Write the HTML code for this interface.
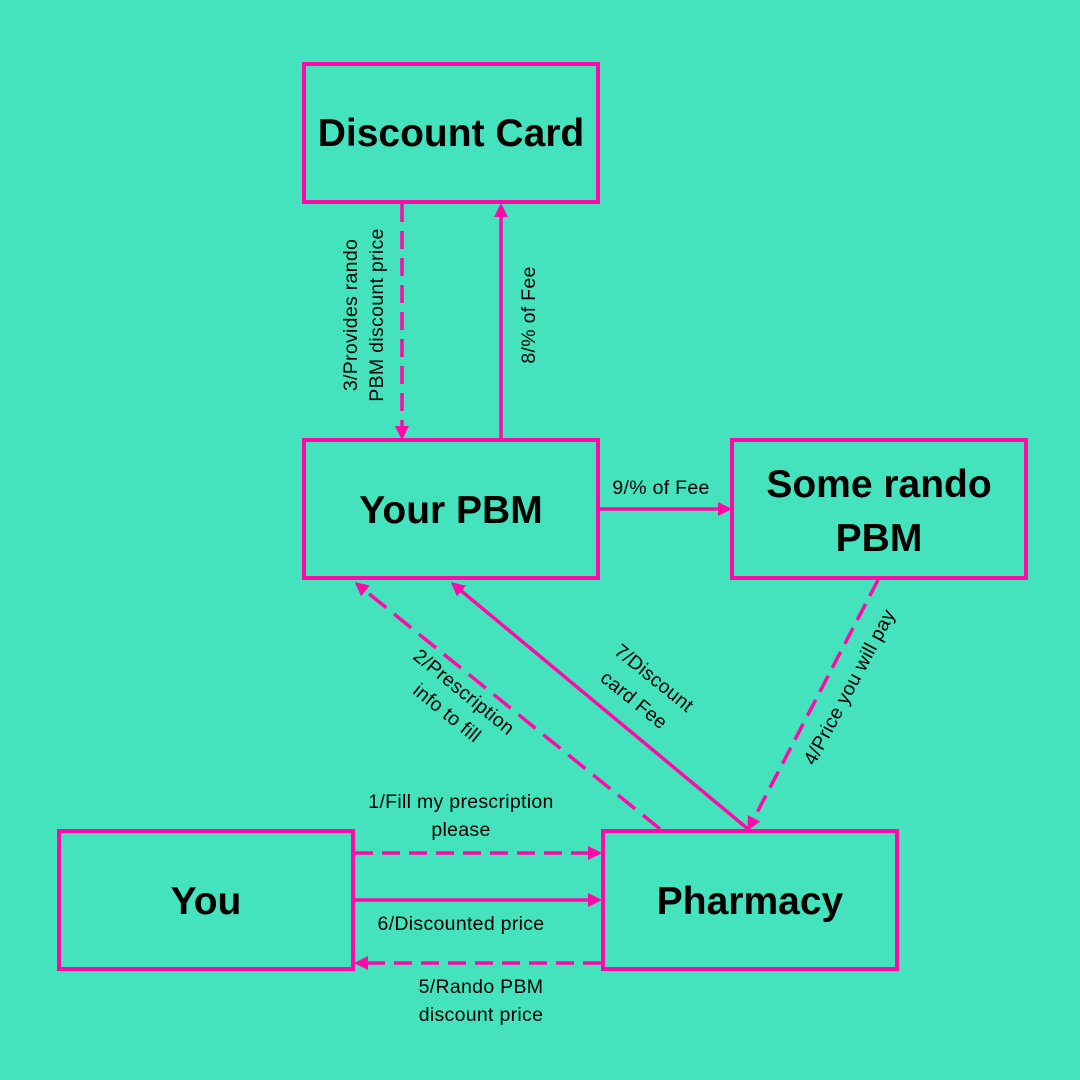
<!DOCTYPE html>
<html><head><meta charset="utf-8"><style>
html,body{margin:0;padding:0;background:#45e3bd;}
svg{display:block}
text{font-family:"Liberation Sans",sans-serif;fill:#000}
.t{font-weight:bold;font-size:39px;text-anchor:middle}
.l{font-size:19.5px;text-anchor:middle;letter-spacing:0.3px}
</style></head><body>
<svg width="1080" height="1080" viewBox="0 0 1080 1080">
<defs>
<marker id="a" markerWidth="14" markerHeight="14" refX="11" refY="7" orient="auto" markerUnits="userSpaceOnUse">
<path d="M0,0 L14,7 L0,14 z" fill="#ff0aa8"/></marker>
</defs>
<rect width="1080" height="1080" fill="#45e3bd"/>
<g fill="none" stroke="#ff0aa8" stroke-width="4">
<rect x="304" y="64" width="294" height="138"/>
<rect x="304" y="440" width="294" height="138"/>
<rect x="732" y="440" width="294" height="138"/>
<rect x="59" y="831" width="294" height="138"/>
<rect x="603" y="831" width="294" height="138"/>
</g>
<g fill="none" stroke="#ff0aa8" stroke-width="3.5">
<line x1="402" y1="204" x2="402" y2="437" stroke-dasharray="18,9" marker-end="url(#a)"/>
<line x1="501" y1="438" x2="501" y2="206" marker-end="url(#a)"/>
<line x1="600" y1="509" x2="729" y2="509" marker-end="url(#a)"/>
<line x1="878" y1="580" x2="749" y2="828" stroke-dasharray="18,9" marker-end="url(#a)"/>
<line x1="660" y1="829" x2="357" y2="584" stroke-dasharray="22,10" marker-end="url(#a)"/>
<line x1="748" y1="829" x2="453" y2="584" marker-end="url(#a)"/>
<line x1="355" y1="853" x2="599" y2="853" stroke-dasharray="18,9" marker-end="url(#a)"/>
<line x1="355" y1="900" x2="599" y2="900" marker-end="url(#a)"/>
<line x1="601" y1="963" x2="357" y2="963" stroke-dasharray="18,9" marker-end="url(#a)"/>
</g>
<text class="t" x="451" y="146">Discount Card</text>
<text class="t" x="451" y="523">Your PBM</text>
<text class="t" x="879" y="497">Some rando</text>
<text class="t" x="879" y="551">PBM</text>
<text class="t" x="206" y="914">You</text>
<text class="t" x="750" y="914">Pharmacy</text>
<text class="l" transform="translate(357,315) rotate(-90)">3/Provides rando</text>
<text class="l" transform="translate(383,315) rotate(-90)">PBM discount price</text>
<text class="l" transform="translate(535,315) rotate(-90)">8/% of Fee</text>
<text class="l" x="661" y="494">9/% of Fee</text>
<text class="l" transform="translate(460,697) rotate(39)">2/Prescription</text>
<text class="l" transform="translate(443,718) rotate(39)">info to fill</text>
<text class="l" transform="translate(650,683) rotate(39)">7/Discount</text>
<text class="l" transform="translate(630,705) rotate(39)">card Fee</text>
<text class="l" transform="translate(855,690) rotate(-62)">4/Price you will pay</text>
<text class="l" x="461" y="808">1/Fill my prescription</text>
<text class="l" x="461" y="836">please</text>
<text class="l" x="461" y="930">6/Discounted price</text>
<text class="l" x="481" y="993">5/Rando PBM</text>
<text class="l" x="481" y="1021">discount price</text>
</svg>
</body></html>
